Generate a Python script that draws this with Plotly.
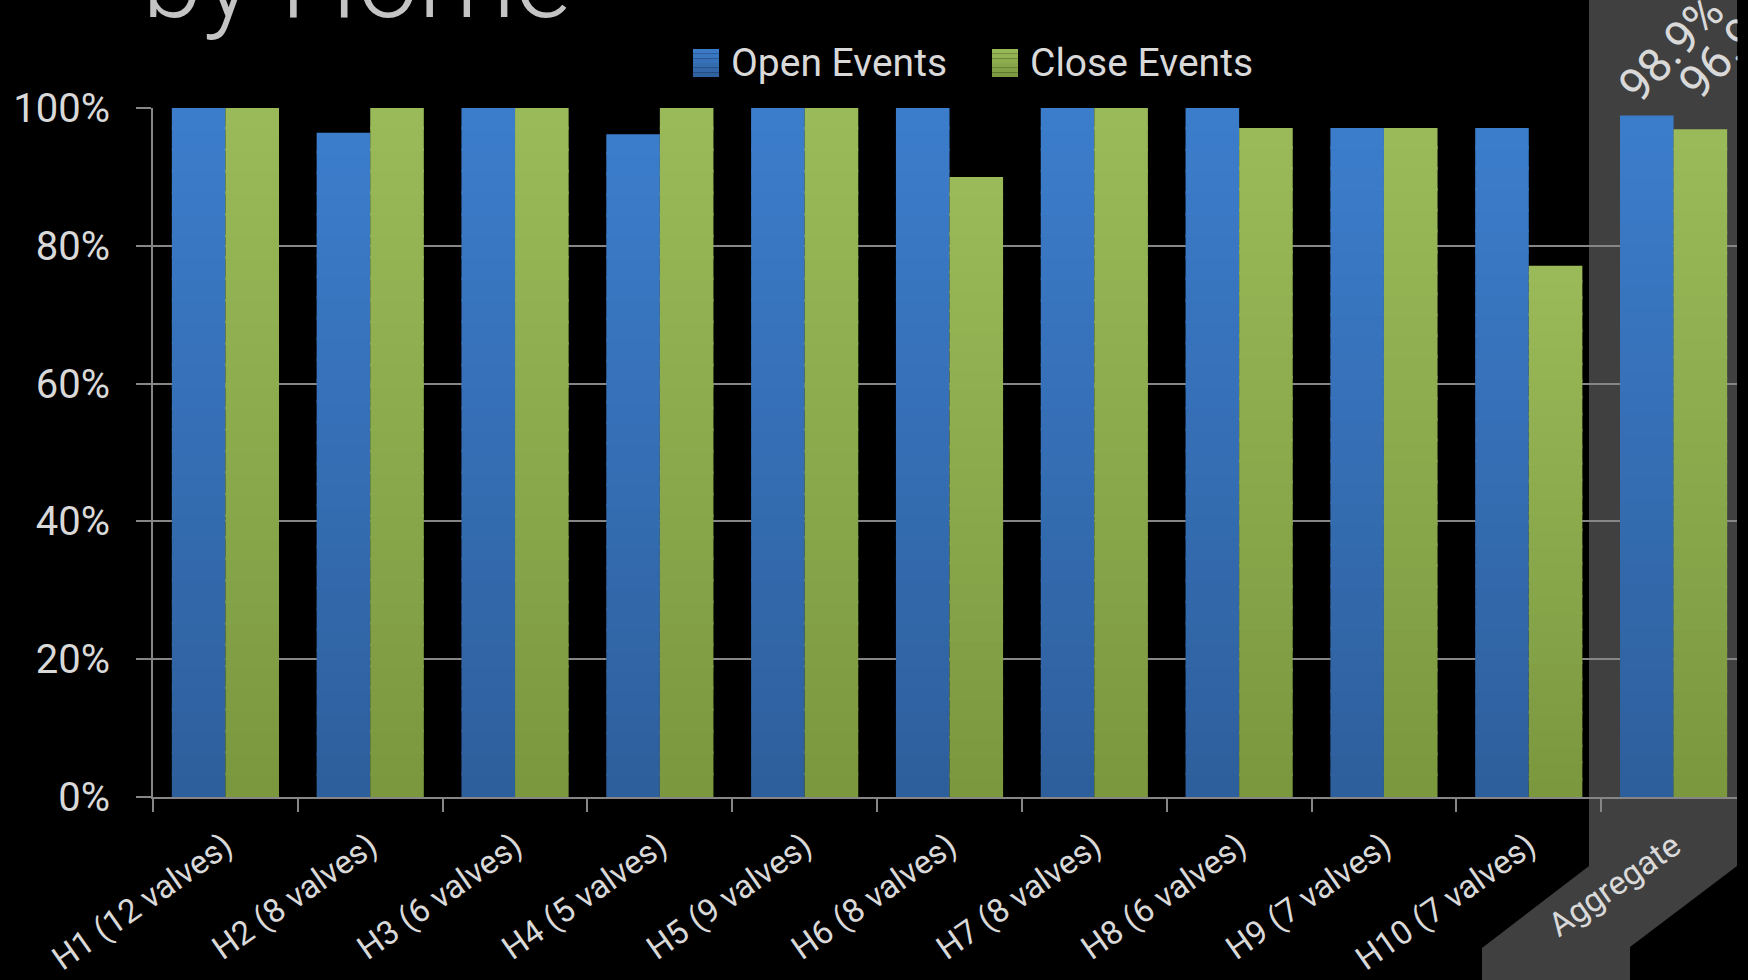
import plotly.graph_objects as go

# ---------------- data ----------------
categories = [
    "H1 (12 valves)", "H2 (8 valves)", "H3 (6 valves)", "H4 (5 valves)",
    "H5 (9 valves)", "H6 (8 valves)", "H7 (8 valves)", "H8 (6 valves)",
    "H9 (7 valves)", "H10 (7 valves)", "Aggregate",
]
open_events = [1.000, 0.964, 1.000, 0.962, 1.000, 1.000, 1.000, 1.000, 0.971, 0.971, 0.989]
close_events = [1.000, 1.000, 1.000, 1.000, 1.000, 0.900, 1.000, 0.971, 0.971, 0.771, 0.969]
series_names = ["Open Events", "Close Events"]
y_ticks = [0, 0.2, 0.4, 0.6, 0.8, 1.0]
title_text = "by Home"

# ---------------- geometry helpers (pixel -> paper) ----------------
W, H = 1748, 980
PL, PR, PT, PB = 153, 1737, 108, 797


def px(x):
    return (x - PL) / (PR - PL)


def py(y):
    return (PB - y) / (PB - PT)


FONT = "Roboto, Liberation Sans, sans-serif"
TXT = "#d9d9d9"
GRID = "#868686"
BAND = "#404040"

blue_top, blue_bot = (60, 125, 204), (46, 95, 156)
green_top, green_bot = (155, 187, 89), (122, 151, 63)
N = 32
EPS = 0.004


def mix(a, b, t):
    return "rgb(%d,%d,%d)" % tuple(round(a[i] + (b[i] - a[i]) * t) for i in range(3))


fig = go.Figure()
for vals, grp, top, bot in [
    (open_events, "open", blue_top, blue_bot),
    (close_events, "close", green_top, green_bot),
]:
    for k in range(N):
        extra = EPS if k < N - 1 else 0.0
        fig.add_trace(go.Bar(
            x=categories,
            y=[v / N + extra for v in vals],
            base=[v * k / N for v in vals],
            offsetgroup=grp,
            marker=dict(color=mix(bot, top, (k + 0.5) / N), line=dict(width=0)),
            showlegend=False,
            hoverinfo="skip",
        ))

cat_w = (1746 - PL) / len(categories)
x_end = len(categories) - 0.5 - (1746 - PR) / cat_w

# gray band behind Aggregate
band_pts = [(1589, -5), (1737, -5), (1737, 866), (1630, 947), (1630, 995),
            (1482, 995), (1482, 948), (1589, 866)]
path = "M " + " L ".join("%f,%f" % (px(x), py(y)) for x, y in band_pts) + " Z"
shapes = [dict(type="path", path=path, xref="paper", yref="paper",
               fillcolor=BAND, line=dict(width=0), layer="below")]

# manual legend swatches
legend_items = [(series_names[0], 693, 719, 729, blue_top, blue_bot),
                (series_names[1], 992, 1018, 1028, green_top, green_bot)]
annotations = []
for name, x0, x1, xt, top, bot in legend_items:
    steps = 6
    y_lo, y_hi = 77, 49
    for s in range(steps):
        ya = y_lo - (y_lo - y_hi) * s / steps
        yb = y_lo - (y_lo - y_hi) * (s + 1) / steps
        shapes.append(dict(type="rect", xref="paper", yref="paper",
                           x0=px(x0), x1=px(x1), y0=py(ya), y1=py(yb),
                           fillcolor=mix(bot, top, (s + 0.5) / steps),
                           line=dict(width=0), layer="above"))
    annotations.append(dict(text=name, xref="paper", yref="paper", x=px(xt), y=py(63),
                            xanchor="left", yanchor="middle", showarrow=False,
                            font=dict(family=FONT, size=39, color=TXT)))

# title
annotations.append(dict(text=title_text, xref="paper", yref="paper", x=px(140), y=py(46),
                        xanchor="left", yanchor="bottom", showarrow=False,
                        font=dict(family=FONT, size=109, color="#c4c4c4", weight=300)))

# data labels on Aggregate
annotations.append(dict(text="%.1f%%" % (open_events[-1] * 100), x=categories[-1], y=open_events[-1],
                        xref="x", yref="y", xshift=-3, yshift=67, textangle=-46,
                        xanchor="center", yanchor="middle", showarrow=False,
                        font=dict(family=FONT, size=47, color=TXT)))
annotations.append(dict(text="%.1f%%" % (close_events[-1] * 100), x=categories[-1], y=close_events[-1],
                        xref="x", yref="y", xshift=57, yshift=84, textangle=-46,
                        xanchor="center", yanchor="middle", showarrow=False,
                        font=dict(family=FONT, size=47, color=TXT)))
# black cover beyond the slide edge
annotations.append(dict(text=" ", xref="paper", yref="paper", x=1.0, y=py(-2),
                        xanchor="left", yanchor="top", showarrow=False,
                        width=30, height=160, bgcolor="black", borderpad=0,
                        font=dict(size=10)))

fig.update_layout(
    width=W, height=H, autosize=False,
    margin=dict(l=PL, r=W - PR, t=PT, b=H - PB, pad=0, autoexpand=False),
    paper_bgcolor="black", plot_bgcolor="rgba(0,0,0,0)",
    barmode="group", bargap=0.26, bargroupgap=0,
    showlegend=False,
    shapes=shapes, annotations=annotations,
    xaxis=dict(type="category", range=[-0.5, x_end], tickson="boundaries",
               ticks="outside", ticklen=13, tickwidth=2, tickcolor=GRID,
               showline=True, linecolor=GRID, linewidth=2, showgrid=False,
               tickangle=-35, ticklabelstandoff=15, automargin=False,
               tickfont=dict(family=FONT, size=33, color=TXT), fixedrange=True),
    yaxis=dict(range=[0, 1.0], tickvals=y_ticks, tickformat=".0%",
               ticks="outside", ticklen=15, tickwidth=2, tickcolor=GRID,
               showline=True, linecolor=GRID, linewidth=2,
               showgrid=True, gridcolor=GRID, gridwidth=2, zeroline=False,
               ticklabelstandoff=18, automargin=False,
               tickfont=dict(family=FONT, size=40, color=TXT), fixedrange=True),
)

fig.write_html(
    "out.html",
    config={"displayModeBar": False},
    post_script="document.body.style.margin='0';document.body.style.background='black';",
)
